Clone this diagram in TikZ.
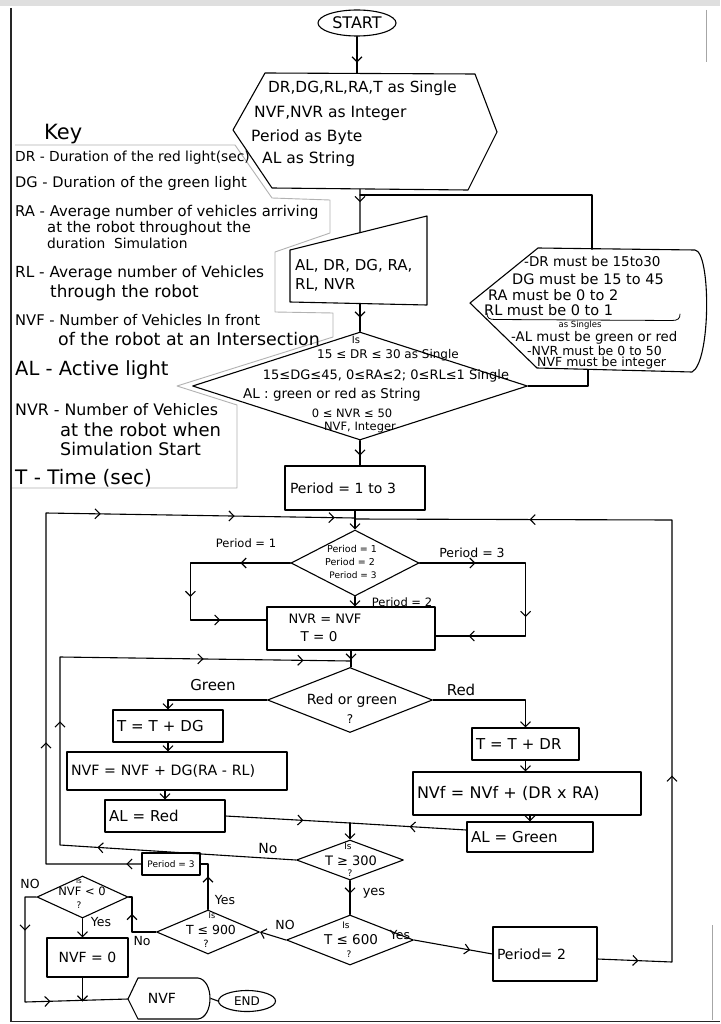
\documentclass[tikz,border=0pt]{standalone}
\usepackage{fontspec}
\setmainfont{DejaVu Sans}
\usetikzlibrary{shapes.geometric,arrows.meta,decorations.markings,calc}
\tikzset{
  ln/.style={line width=1.1pt, line cap=round, line join=round},
  tx/.style={inner sep=0pt, font=\fontsize{#1}{#1}\selectfont},
  box/.style={draw, ln, rectangle, inner sep=0pt, align=left},
  dia/.style={draw, ln, diamond, inner sep=0pt},
  arr/.style={postaction={decorate,decoration={markings,mark=at position #1 with {\arrow{Straight Barb[length=5pt,width=10pt]}}}}},
  endarr/.style={-{Straight Barb[length=5pt,width=10pt]}},
  keyline/.style={draw=gray!60, line width=0.9pt, line join=round},
}
\begin{document}
\begin{tikzpicture}[x=1pt,y=-1pt]
\useasboundingbox (0,0) rectangle (720,1024);
\fill[white] (0,0) rectangle (720,1024);
\fill[gray!25] (0,0) rectangle (720,6);
\draw[line width=1.5pt, black!85] (11,8) -- (11,1021.5) -- (720,1021.5);
\draw[gray!70, line width=0.8pt] (706,10) -- (706,62);
\draw[gray!70, line width=0.8pt] (712,925) -- (712,1020);

% ---------------- Key ----------------
\draw[keyline] (15,145) -- (235,145) -- (272,198) -- (330,200) -- (330,233) -- (275,252) -- (275,312) -- (333,313) -- (333,337) -- (177,386) -- (237,405) -- (237,488) -- (12,488);
\node[tx=21, anchor=south west] (keyt) at (44,144) {Key};
\node[tx=13.8, anchor=west] (k1) at (15,158) {DR - Duration of the red light(sec)};
\node[tx=14.6, anchor=west] (k2) at (15,183) {DG - Duration of the green light};
\node[tx=14.8, anchor=west] (k3) at (15,212) {RA - Average number of vehicles arriving};
\node[tx=14.8, anchor=west] (k4) at (47,228) {at the robot throughout the};
\node[tx=13.8, anchor=west] (k5) at (47,243) {duration\ \ Simulation};
\node[tx=15.3, anchor=west] (k6) at (15,273) {RL - Average number of Vehicles};
\node[tx=16.8, anchor=west] (k7) at (50,293) {through the robot};
\node[tx=14.7, anchor=west] (k8) at (15,320) {NVF - Number of Vehicles In front};
\node[tx=17.4, anchor=west] (k9) at (58,339) {of the robot at an Intersection};
\node[tx=19.5, anchor=west] (k10) at (15,370) {AL - Active light};
\node[tx=15.8, anchor=west] (k11) at (15,410) {NVR - Number of Vehicles};
\node[tx=18, anchor=west] (k12) at (60,430) {at the robot when};
\node[tx=17.4, anchor=west] (k13) at (60,449) {Simulation Start};
\node[tx=20, anchor=west] (k14) at (15,478) {T - Time (sec)};

% ---------------- Start / declarations ----------------
\node[ellipse, draw, ln, minimum width=78pt, minimum height=26pt, tx=16] (start) at (357,23) {START};

\coordinate (hL) at (233,130);
\coordinate (hTL) at (265,73);
\coordinate (hTR) at (475,74);
\coordinate (hR) at (497,132);
\coordinate (hBR) at (468,190);
\coordinate (hBL) at (272,188);
\draw[ln] (hL) -- (hTL) -- (hTR) -- (hR) -- (hBR) -- (hBL) -- cycle;
\coordinate (hexN) at (358,73.4);
\coordinate (hexS) at (360,189.2);
\coordinate (hexJ) at (360,195);
\node[tx=15.3, anchor=west] (h1) at (268,88) {DR,DG,RL,RA,T as Single};
\node[tx=15.5, anchor=west] (h2) at (254,113) {NVF,NVR as Integer};
\node[tx=15.5, anchor=west] (h3) at (251,137) {Period as Byte};
\node[tx=15.5, anchor=west] (h4) at (262,159) {AL as String};

\draw[ln, arr=26pt] (start.south) -- (start.south |- hexN);

% input
\coordinate (iTL) at (290,250);
\coordinate (iTR) at (427,216);
\coordinate (iBR) at (427,305);
\coordinate (iBL) at (290,302);
\draw[ln] (iTL) -- (iTR) -- (iBR) -- (iBL) -- cycle;
\coordinate (inTop) at ($(iTL)!0.511!(iTR)$);
\coordinate (inBot) at ($(iBL)!0.511!(iBR)$);
\node[tx=15, anchor=west] (i1) at (295,266) {AL, DR, DG, RA,};
\node[tx=15, anchor=west] (i2) at (295,285) {RL, NVR};
\draw[ln, arr=13pt] (hexS) -- (inTop);

% error display
\draw[ln] (470,303) -- (538,248) -- (695,250) .. controls (711,252) and (711,362) .. (692,372) -- (537,368) -- cycle;
\coordinate (dispTop) at (592,249.3);
\coordinate (dispBot) at (588,369.5);
\draw[ln] (hexJ) -| (dispTop);
\node[tx=13.5, anchor=west] (d1) at (524,261) {-DR must be 15to30};
\node[tx=14.5, anchor=west] (d2) at (512,279) {DG must be 15 to 45};
\node[tx=14.5, anchor=west] (d3) at (488,295) {RA must be 0 to 2};
\node[tx=14.5, anchor=west] (d4) at (484,310.5) {RL must be 0 to 1};
\draw[line width=0.8pt, line cap=round] (487,313) .. controls (487,318) and (489,319.5) .. (495,319.5) -- (672,320.5) .. controls (678,320.5) and (680,318.5) .. (680,314);
\node[tx=8.5] (d5) at (580,325.5) {as Singles};
\node[tx=13.3, anchor=west] (d6) at (511,337.5) {-AL must be green or red};
\node[tx=12.5, anchor=west] (d7) at (527,350.5) {-NVR must be 0 to 50};
\node[tx=12.5, anchor=west] (d8) at (537,363.5) {NVF must be integer};

% validation diamond
\node[dia, minimum width=335pt, minimum height=108pt] (bd) at (360,386) {};
\node[tx=10] (bd0) at (356,340) {Is};
\node[tx=12] (bd1) at (388,355) {15 ≤ DR ≤ 30 as Single};
\node[tx=13] (bd2) at (386,376) {15≤DG≤45, 0≤RA≤2; 0≤RL≤1 Single};
\node[tx=13.5] (bd3) at (332,395) {AL : green or red as String};
\node[tx=11.5] (bd4) at (352,413) {0 ≤ NVR ≤ 50};
\node[tx=11.5] (bd5) at (360,428) {NVF, Integer};
\draw[ln, arr=14pt] (inBot) -- (inBot |- bd.north);
\draw[ln] (bd.east) -| (dispBot);

% period loop
\node[box, minimum width=140pt, minimum height=44pt, text width=130pt, tx=14] (p13) at (355,488) {Period = 1 to 3};
\draw[ln, arr=15pt] (bd.south) -- (bd.south |- p13.north);
\coordinate (jA) at (355,518);
\node[dia, minimum width=128pt, minimum height=66pt] (pd) at (355,563) {};
\node[tx=9.5] (pd1) at (352,549) {Period = 1};
\node[tx=9.5] (pd2) at (350,562) {Period = 2};
\node[tx=9] (pd3) at (353,575) {Period = 3};
\draw[ln, endarr] (p13.south) -- (pd.north);

\node[box, minimum width=168pt, minimum height=43pt] (nvrb) at (351,628.5) {};
\node[tx=13] (nvr1) at (325,619) {NVR = NVF};
\node[tx=13.5] (nvr2) at (319,637) {T = 0};

\draw[ln, arr=50pt, arr=134pt, arr=187pt] (pd.west) -- ++(-100,0) |- ([yshift=8.5pt]nvrb.west);
\draw[ln, arr=56pt, arr=160pt, arr=236pt] (pd.east) -- ++(106,0) |- ([yshift=-7.5pt]nvrb.east);
\draw[ln, endarr] (pd.south) -- (pd.south |- nvrb.north);
\node[tx=11.5] (lp1) at (246,543) {Period = 1};
\node[tx=12.5] (lp3) at (472,553) {Period = 3};
\node[tx=11.5] (lp2) at (402,602) {Period = 2};

% light loop
\node[dia, minimum width=165pt, minimum height=65pt] (rg) at (350,700) {};
\node[tx=14] (rgt) at (352,701) {Red or green};
\node[tx=12] (rgq) at (350,719) {?};
\draw[ln, arr=9pt] (nvrb.south) -- (nvrb.south |- rg.north);
\node[tx=15] (lgreen) at (213,685) {Green};
\node[tx=15] (lred) at (461,690) {Red};

\node[box, minimum width=110pt, minimum height=32pt, text width=102pt, tx=15] (tdg) at (168,726) {T = T + DG};
\node[box, minimum width=220pt, minimum height=38pt, text width=212pt, tx=14.2] (nvfg) at (177,771) {NVF = NVF + DG(RA - RL)};
\node[box, minimum width=120pt, minimum height=32pt, text width=112pt, tx=15] (alr) at (165,816) {AL = Red};
\node[box, minimum width=107pt, minimum height=32pt, text width=99pt, tx=15] (tdr) at (525.5,744) {T = T + DR};
\node[box, minimum width=228pt, minimum height=43pt, text width=220pt, tx=16] (nvfr) at (527,793.5) {NVf = NVf + (DR x RA)};
\node[box, minimum width=126pt, minimum height=30pt, text width=118pt, tx=15] (alg) at (530,837) {AL = Green};

\draw[ln, endarr] (rg.west) -| (tdg.north);
\draw[ln, endarr] (rg.east) -| (tdr.north);
\draw[ln, endarr] (tdg.south) -- (tdg.south |- nvfg.north);
\draw[ln, endarr] (nvfg.south -| alr.north) -- (alr.north);
\draw[ln, endarr] (tdr.south) -- (tdr.south |- nvfr.north);
\draw[ln, endarr] (nvfr.south -| alg.north) -- (alg.north);

\coordinate (jC) at (350,823);
\draw[ln, arr=78pt] (alr.east) -- (jC);
\draw[ln, arr=57pt] ([yshift=7pt]alg.west) -- (jC);

% time tests
\node[dia, minimum width=107pt, minimum height=40pt] (t300) at (350,860) {};
\node[tx=9] (t300a) at (348,846) {Is};
\node[tx=13] (t300b) at (351,861) {T ≥ 300};
\node[tx=9] (t300c) at (350,873.5) {?};
\draw[ln, endarr] (jC) -- (t300.north);
\node[tx=14] (lno1) at (268,848) {No};

\coordinate (iL1) at (60,845);
\coordinate (iL2) at (60,657);
\coordinate (jB) at (350,661);
\draw[ln, arr=199pt, arr=360pt, arr=568pt, arr=668pt] (t300.west) -- (iL1) -- (iL2) -- (jB);

\node[dia, minimum width=127pt, minimum height=50pt] (t600) at (350,940) {};
\node[tx=9] (t600a) at (346,925) {Is};
\node[tx=13.5] (t600b) at (351,940) {T ≤ 600};
\node[tx=9] (t600c) at (349,954) {?};
\draw[ln, arr=13pt] (t300.south) -- (t600.north);
\node[tx=13] (lyes1) at (374,893) {yes};

\node[box, minimum width=104pt, minimum height=54pt, text width=96pt, tx=14] (p2) at (545,954) {Period= 2};
\draw[ln, arr=57pt] (t600.east) -- (p2.west);
\node[tx=12.5] (lyes2) at (400,935) {Yes};

\coordinate (oR1) at (672,962);
\coordinate (oR2) at (672,520);
\coordinate (jA2) at (355,519);
\draw[ln, arr=41pt, arr=261pt, arr=659pt] ([yshift=-5pt]p2.east) -- (oR1) -- (oR2) -- (jA2);

\node[dia, minimum width=103pt, minimum height=44pt] (t900) at (208,932) {};
\node[tx=8] (t900a) at (212,916) {Is};
\node[tx=12.5] (t900b) at (211,930) {T ≤ 900};
\node[tx=10] (t900c) at (206,944) {?};
\draw[ln, endarr] (t600.west) -- (t900.east);
\node[tx=12.5] (lno2) at (285,925) {NO};

\node[box, minimum width=58pt, minimum height=22pt, tx=9, line width=1.4pt] (p3) at (171,864) {Period = 3};
\draw[ln, arr=33pt] (t900.north) |- (p3.east);
\node[tx=12.5] (lyes3) at (225,900) {Yes};

\coordinate (oL1) at (46,864);
\coordinate (oL2) at (46,513);
\draw[ln, arr=15pt, arr=217pt, arr=501pt, arr=635pt, arr=735pt] (p3.west) -- (oL1) -- (oL2) -- (jA);

\node[dia, minimum width=91pt, minimum height=42pt] (nvf0d) at (82.5,897) {};
\node[tx=7] (nvfa) at (79,881) {Is};
\node[tx=11.5] (nvfb) at (82,891.5) {NVF < 0};
\node[tx=9] (nvfc) at (79,905) {?};
\coordinate (k1c) at (132,932);
\draw[ln, arr=42pt] (t900.west) -- (k1c) -- (k1c |- nvf0d.east) -- (nvf0d.east);
\node[tx=12.5] (lno3) at (142,941) {No};
\node[tx=12.5] (lno4) at (30,884) {NO};
\node[tx=12.5] (lyes4) at (101,922) {Yes};

\node[box, minimum width=81pt, minimum height=39pt, tx=14, align=center] (nvf0b) at (87.5,957.5) {NVF = 0};
\draw[ln, endarr] (nvf0d.south) -- (nvf0d.south |- nvf0b.north);

% output / end
\draw[ln] (128,999) -- (138,978) -- (198,978) .. controls (214,980) and (214,1017) .. (198,1019) -- (138,1019) -- cycle;
\coordinate (nvfoW) at (128,999);
\coordinate (nvfoE) at (211,998.5);
\node[tx=14] (nvfo) at (162,998) {NVF};
\node[ellipse, draw, ln, minimum width=57pt, minimum height=21pt, tx=12] (endn) at (247,1001) {END};
\draw[ln] (nvfoE) -- (endn.west);

\coordinate (k2c) at (25,897);
\coordinate (k3c) at (25,1002);
\draw[ln, arr=45pt, arr=142pt] (nvf0d.west) -- (k2c) -- (k3c) -- (nvfoW);
\coordinate (k4c) at (82.5,1001.5);
\draw[ln, endarr] (nvf0b.south -| nvf0d.south) -- (k4c);
\end{tikzpicture}
\end{document}
